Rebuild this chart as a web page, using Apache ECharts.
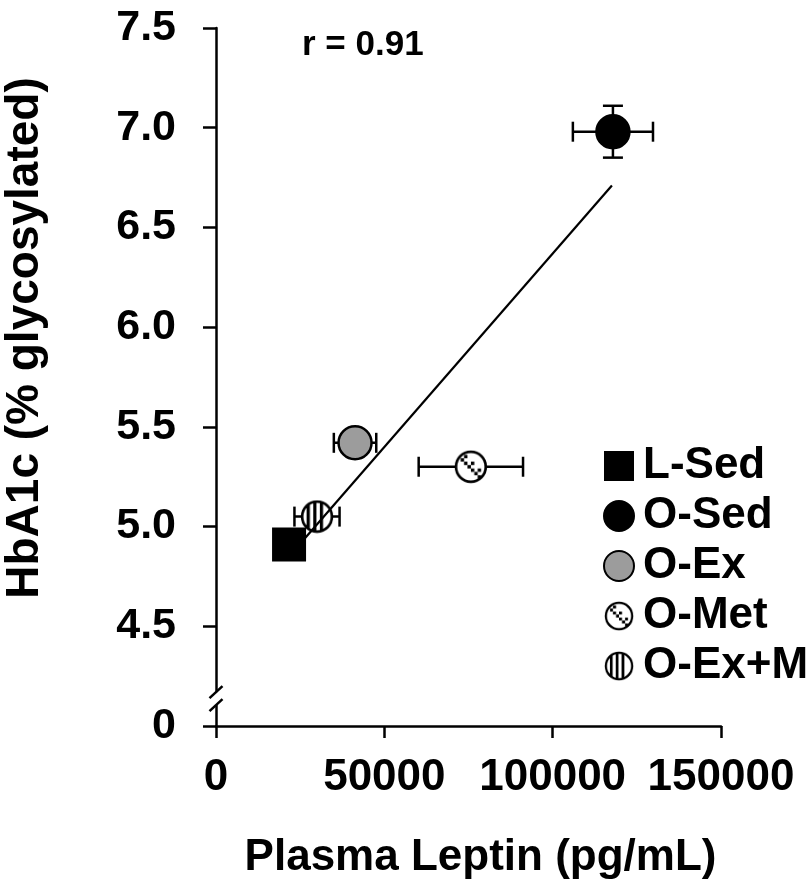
<!DOCTYPE html>
<html><head><meta charset="utf-8">
<script src="https://cdn.jsdelivr.net/npm/echarts@6/dist/echarts.min.js"></script>
<style>html,body{margin:0;padding:0;background:#fff}#c{width:810px;height:890px}</style>
</head><body><div id="c"></div>
<script>
// ---- data ----
const groups    = ['L-Sed', 'O-Sed', 'O-Ex', 'O-Met', 'O-Ex+M'];
const leptin    = [21700, 117900, 41300, 75700, 30000];   // pg/mL
const hba1c     = [4.91, 6.98, 5.42, 5.30, 5.05];          // % glycosylated
const leptinErr = [3000, 11900, 6300, 15500, 6700];
const hba1cErr  = [0.05, 0.13, 0.06, 0.05, 0.05];
const trendX    = [21700, 117600];
const trendY    = [4.85, 6.71];
const xTicks    = [0, 50000, 100000, 150000];
const yTicks    = [4.0, 4.5, 5.0, 5.5, 6.0, 6.5, 7.0, 7.5];
const yTickLabels = ['0', '4.5', '5.0', '5.5', '6.0', '6.5', '7.0', '7.5'];
const rText = 'r = 0.91';

const FONT = '"Liberation Sans", Arial, Helvetica, sans-serif';

function patternSymbol(kind) {
  const s = 36, c = document.createElement('canvas');
  c.width = s; c.height = s;
  const g = c.getContext('2d');
  const cx = s / 2, cy = s / 2, r = 16;
  g.fillStyle = '#fff';
  g.beginPath(); g.arc(cx, cy, r, 0, Math.PI * 2); g.fill();
  g.save();
  g.beginPath(); g.arc(cx, cy, r, 0, Math.PI * 2); g.clip();
  g.fillStyle = '#000';
  if (kind === 'met') {
    const q = 3.6;
    for (let k = -3; k <= 3; k++) {
      g.fillRect(cx + q * k - q, cy + q * k - q / 2, q, q);
      if (k % 2 === 0) g.fillRect(cx + q * k, cy + q * k - 1.5 * q, q, q);
    }
  } else {
    [-11, -4, 3].forEach(dx => g.fillRect(cx + dx, 0, 3.4, s));
  }
  g.restore();
  g.strokeStyle = '#000'; g.lineWidth = 2.8;
  g.beginPath(); g.arc(cx, cy, r - 0.2, 0, Math.PI * 2); g.stroke();
  return 'image://' + c.toDataURL();
}

const markerStyles = [
  { symbol: 'rect', size: 34, itemStyle: { color: '#000', borderColor: '#000', borderWidth: 0, opacity: 1 } },
  { symbol: 'circle', size: 33, itemStyle: { color: '#000', borderColor: '#000', borderWidth: 2.5, opacity: 1 } },
  { symbol: 'circle', size: 33, itemStyle: { color: '#9c9c9c', borderColor: '#000', borderWidth: 2.5, opacity: 1 } },
  { symbol: patternSymbol('met'), size: 34, itemStyle: { color: '#fff', opacity: 1 } },
  { symbol: patternSymbol('exm'), size: 34, itemStyle: { color: '#fff', opacity: 1 } }
];

const chart = echarts.init(document.getElementById('c'), null, { renderer: 'canvas' });

const scatterSeries = groups.map((name, i) => ({
  name,
  type: 'scatter',
  symbol: markerStyles[i].symbol,
  symbolSize: markerStyles[i].size,
  itemStyle: markerStyles[i].itemStyle,
  z: 3,
  silent: true,
  data: [[leptin[i], hba1c[i]]]
}));

const errData = groups.map((n, i) => [leptin[i], hba1c[i], leptinErr[i], hba1cErr[i]]);

const axisLineStyle = { color: '#000', width: 2.5 };
const labelFont = { fontFamily: FONT, fontWeight: 'bold', color: '#000' };

chart.setOption({
  animation: false,
  backgroundColor: '#fff',
  grid: { left: 216, right: 89, top: 28, bottom: 164, containLabel: false, outerBoundsMode: 'none' },
  title: {
    text: rText, left: 302, top: 28, padding: 0,
    textStyle: { fontFamily: FONT, fontWeight: 'bold', fontSize: 35, color: '#000' }
  },
  legend: {
    data: groups,
    orient: 'vertical',
    left: 603, top: 444, padding: 0,
    itemWidth: 30, itemHeight: 30, itemGap: 6,
    selectedMode: false,
    textStyle: Object.assign({ fontSize: 44, lineHeight: 43, padding: [0, 0, 0, 4] }, labelFont)
  },
  xAxis: {
    type: 'value', min: 0, max: 150000, interval: 50000,
    name: 'Plasma Leptin (pg/mL)', nameLocation: 'middle', nameGap: 110,
    nameTextStyle: Object.assign({ fontSize: 44, padding: [0, 0, 0, 24] }, labelFont),
    axisLine: { show: true, onZero: false, lineStyle: axisLineStyle },
    axisTick: { show: true, length: 12, lineStyle: axisLineStyle },
    axisLabel: Object.assign({ fontSize: 44, margin: 30, formatter: v => xTicks.includes(v) ? String(v) : '' }, labelFont),
    splitLine: { show: false }
  },
  yAxis: {
    type: 'value', min: 4, max: 7.5, interval: 0.5,
    name: 'HbA1c (% glycosylated)', nameLocation: 'middle', nameGap: 168,
    nameTextStyle: Object.assign({ fontSize: 46, padding: [0, 0, 0, 78] }, labelFont),
    axisLine: { show: true, onZero: false, lineStyle: axisLineStyle },
    axisTick: { show: true, length: 13, lineStyle: axisLineStyle },
    axisLabel: Object.assign({ fontSize: 43, margin: 40, formatter: v => {
      const k = yTicks.findIndex(t => Math.abs(t - v) < 1e-6);
      return k >= 0 ? yTickLabels[k] : '';
    } }, labelFont),
    splitLine: { show: false }
  },
  series: [
    {
      type: 'custom', name: 'err', z: 2, silent: true,
      renderItem: (params, api) => {
        const x = api.value(0), y = api.value(1), ex = api.value(2), ey = api.value(3);
        const c = api.coord([x, y]);
        const l = api.coord([x - ex, y]), r = api.coord([x + ex, y]);
        const t = api.coord([x, y + ey]), b = api.coord([x, y - ey]);
        const cap = 10;
        const st = { stroke: '#000', lineWidth: 2.5 };
        const seg = (x1, y1, x2, y2) => ({ type: 'line', shape: { x1, y1, x2, y2 }, style: st });
        return {
          type: 'group',
          children: [
            seg(l[0], c[1], r[0], c[1]),
            seg(l[0], c[1] - cap, l[0], c[1] + cap),
            seg(r[0], c[1] - cap, r[0], c[1] + cap),
            seg(c[0], t[1], c[0], b[1]),
            seg(c[0] - cap, t[1], c[0] + cap, t[1]),
            seg(c[0] - cap, b[1], c[0] + cap, b[1])
          ]
        };
      },
      data: errData
    },
    ...scatterSeries,
    {
      type: 'line', name: 'trend', z: 4, silent: true, symbol: 'none',
      lineStyle: { color: '#000', width: 2.2 },
      data: trendX.map((x, i) => [x, trendY[i]])
    }
  ]
});

// axis break marks on the y axis (between 0 and 4.5)
function drawBreak() {
  const ax = chart.convertToPixel({ gridIndex: 0 }, [0, 4.1])[0];
  const p1 = chart.convertToPixel({ gridIndex: 0 }, [0, 4.17])[1];
  const p2 = chart.convertToPixel({ gridIndex: 0 }, [0, 4.105])[1];
  const st = { stroke: '#000', lineWidth: 2.5 };
  chart.setOption({
    graphic: [
      { type: 'rect', z: 100, shape: { x: ax - 3, y: p1, width: 6, height: p2 - p1 }, style: { fill: '#fff' } },
      { type: 'line', z: 101, shape: { x1: ax - 6.5, y1: p1 + 6, x2: ax + 6.5, y2: p1 - 6 }, style: st },
      { type: 'line', z: 101, shape: { x1: ax - 6.5, y1: p2 + 6, x2: ax + 6.5, y2: p2 - 6 }, style: st }
    ]
  });
}
drawBreak();
</script>
</body></html>
